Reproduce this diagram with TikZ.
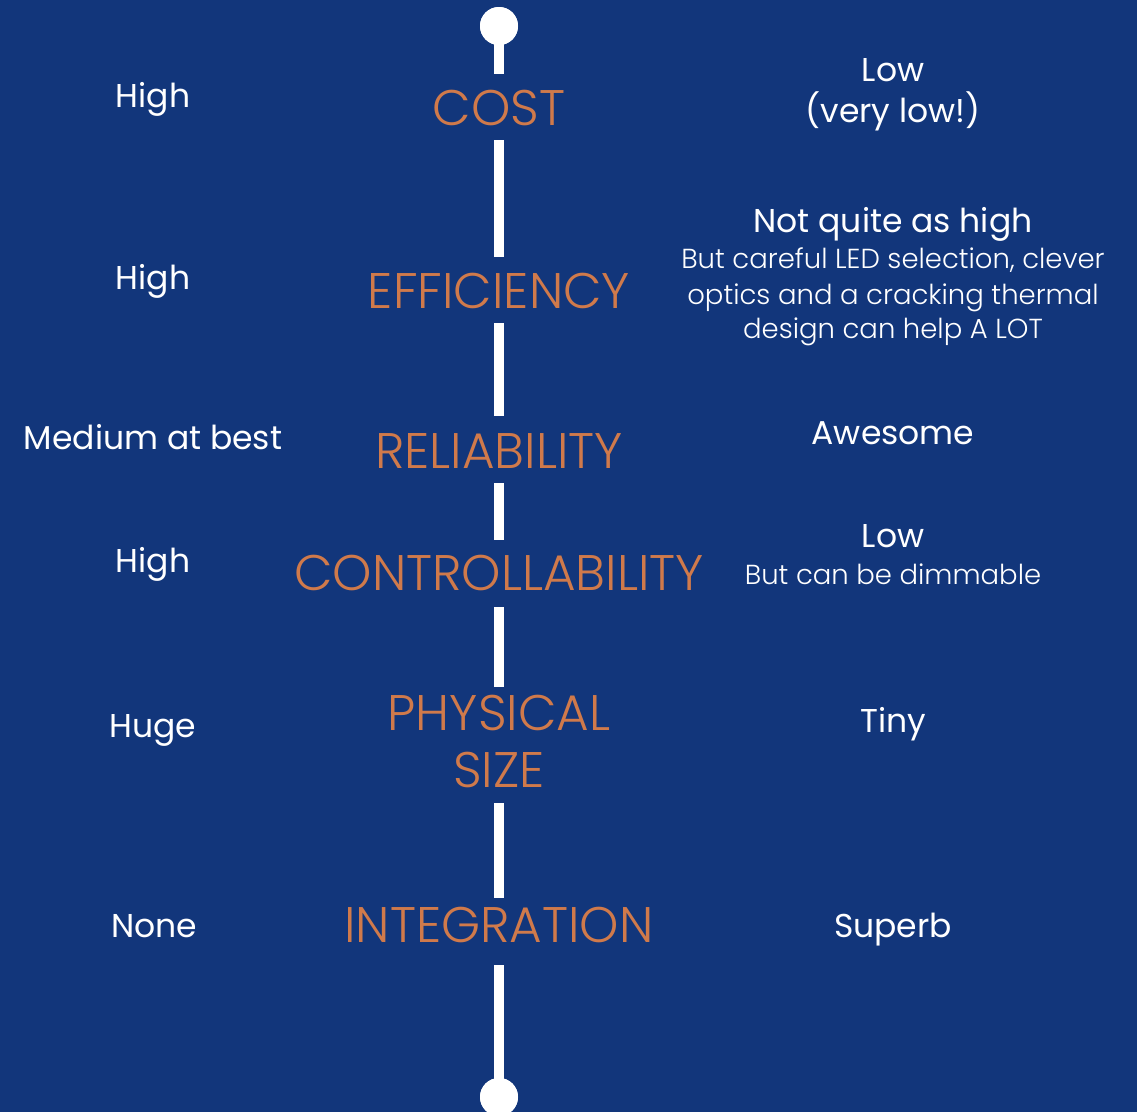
\documentclass[tikz,border=0pt]{standalone}
\usepackage{fontspec}
\setmainfont{Poppins}
\newfontfamily\orngfont{Poppins Light}
\newfontfamily\subfont{Poppins Light}
\usetikzlibrary{calc}
\definecolor{bgblue}{RGB}{18,54,123}
\definecolor{orng}{RGB}{208,122,75}
\begin{document}
\begin{tikzpicture}[x=1pt,y=-1pt,
  orangelbl/.style={text=orng, font=\orngfont\fontsize{50}{50}\selectfont, inner sep=0pt, anchor=base, text height=33pt, text depth=0pt},
  hdr/.style={text=white, font=\fontsize{33}{40}\selectfont, inner sep=0pt, anchor=base},
  sublbl/.style={text=white, font=\subfont\fontsize{27.5}{32}\selectfont, inner sep=0pt, anchor=base},
  seg/.style={white, line width=10pt},
  dot/.style={circle, fill=white, minimum size=38pt, inner sep=0pt}]
\fill[bgblue] (0,0) rectangle (1137,1112);
\useasboundingbox (0,0) rectangle (1137,1112);

% central labels
\node[orangelbl] (cost)  at (499,125) {COST};
\node[orangelbl] (eff)   at (499,308) {EFFICIENCY};
\node[orangelbl] (rel)   at (499,468) {RELIABILITY};
\node[orangelbl] (ctrl)  at (499,590) {CONTROLLABILITY};
\node[orangelbl] (phys)  at (499,730) {PHYSICAL};
\node[orangelbl] (size)  at (499,787) {SIZE};
\node[orangelbl] (integ) at (499,942) {INTEGRATION};

\node[dot] (topdot) at (499,26) {};
\node[dot] (botdot) at (499,1097) {};

% line segments
\draw[seg] (topdot.center) -- ($(cost.north)+(0,-18)$);
\draw[seg] ($(cost.south)+(0,15)$) -- ($(eff.north)+(0,-18)$);
\draw[seg] ($(eff.south)+(0,15)$) -- ($(rel.north)+(0,-19)$);
\draw[seg] ($(rel.south)+(0,15)$) -- ($(ctrl.north)+(0,-17)$);
\draw[seg] ($(ctrl.south)+(0,17)$) -- ($(phys.north)+(0,-10)$);
\draw[seg] ($(size.south)+(0,16)$) -- ($(integ.north)+(0,-11)$);
\draw[seg] ($(integ.south)+(0,23)$) -- (botdot.center);
\fill[white] (topdot) circle (19);
\fill[white] (botdot) circle (19);

% left column
\node[hdr] (l1) at (153,107) {High};
\node[hdr] (l2) at (153,289) {High};
\node[hdr] (l3) at (153,449) {Medium at best};
\node[hdr] (l4) at (153,572) {High};
\node[hdr] (l5) at (153,737) {Huge};
\node[hdr] (l6) at (154,937) {None};

% right column
\node[hdr] (r1a) at (893,81) {Low};
\node[hdr] (r1b) at (893,122) {(very low!)};
\node[hdr] (r2a) at (893,232) {Not quite as high};
\node[sublbl] (r2b) at (893,268) {But careful LED selection, clever};
\node[sublbl] (r2c) at (893,304) {optics and a cracking thermal};
\node[sublbl] (r2d) at (893,338) {design can help A LOT};
\node[hdr] (r3) at (893,444) {Awesome};
\node[hdr] (r4a) at (893,547) {Low};
\node[sublbl] (r4b) at (893,584) {But can be dimmable};
\node[hdr] (r5) at (893,732) {Tiny};
\node[hdr] (r6) at (893,937) {Superb};
\end{tikzpicture}
\end{document}
